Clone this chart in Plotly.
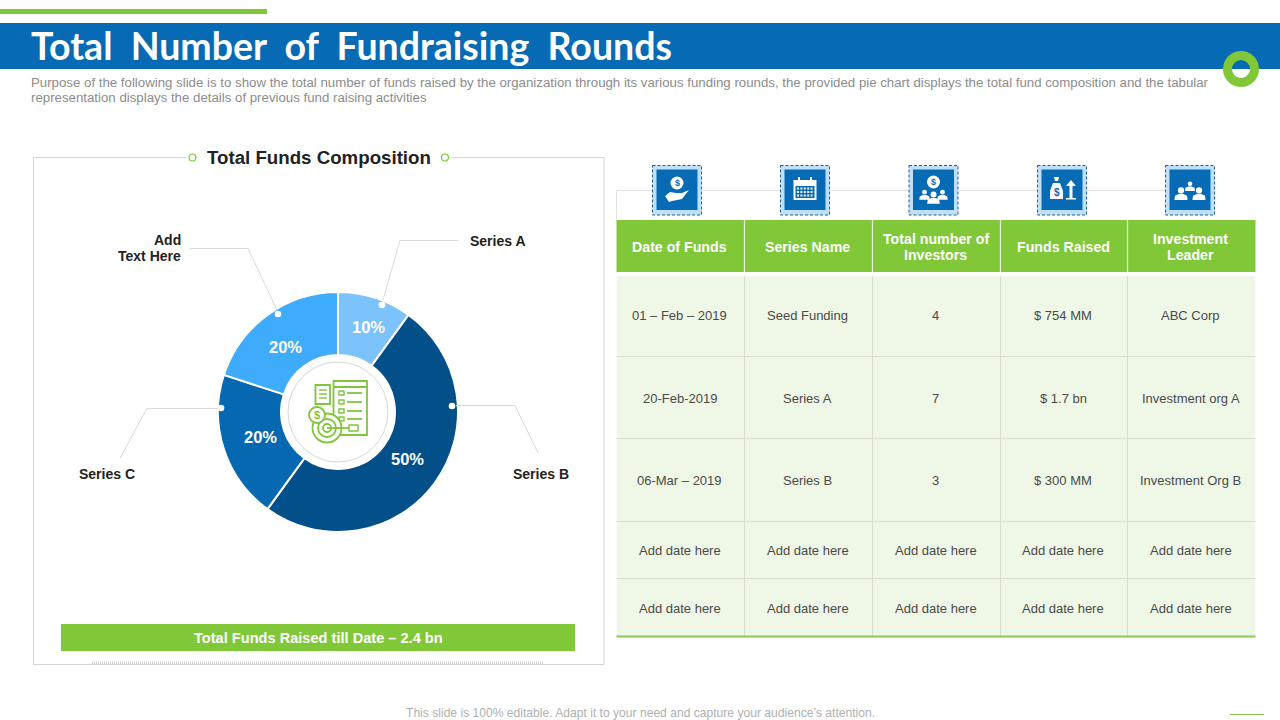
import math
import plotly.graph_objects as go

# pie data
pie_names = ["Series A", "Series B", "Series C", "Add Text Here"]
pie_values = [10, 50, 20, 20]
pie_colors = ["#7CC3FC", "#024F8A", "#0568B0", "#3FABFB"]

# table data
table_headers = ["Date of Funds", "Series Name", "Total number of<br>Investors", "Funds Raised", "Investment<br>Leader"]
date_of_funds = ["01 – Feb – 2019", "20-Feb-2019", "06-Mar – 2019", "Add date here", "Add date here"]
series_name = ["Seed Funding", "Series A", "Series B", "Add date here", "Add date here"]
investors = ["4", "7", "3", "Add date here", "Add date here"]
funds_raised = ["$ 754 MM", "$ 1.7 bn", "$ 300 MM", "Add date here", "Add date here"]
investment_leader = ["ABC Corp", "Investment org A", "Investment Org B", "Add date here", "Add date here"]

title_text = "Total&nbsp; Number&nbsp; of&nbsp; Fundraising&nbsp; Rounds"
sub_line_1 = ("Purpose of the following slide is to show the total number of funds raised by the organization through its "
              "various funding rounds, the provided pie chart displays the total fund composition and the tabular")
sub_line_2 = "representation displays the details of previous fund raising activities"
footer_text = "This slide is 100% editable. Adapt it to your need and capture your audience’s attention."

GREEN = "#80C837"
BLUE = "#066BB4"
FONT = "Liberation Sans"

shapes = []
notes = []


def rect(x0, y0, x1, y1, fill=None, line=None, width=1, dash=None, layer="above"):
    shapes.append(dict(type="rect", x0=x0, y0=y0, x1=x1, y1=y1, fillcolor=fill, layer=layer,
                       line=dict(color=line, width=width if line else 0, dash=dash)))


def line(x0, y0, x1, y1, color, width=1, dash=None):
    shapes.append(dict(type="line", x0=x0, y0=y0, x1=x1, y1=y1, line=dict(color=color, width=width, dash=dash)))


def circle(cx, cy, r, fill=None, color=None, width=1):
    shapes.append(dict(type="circle", x0=cx - r, y0=cy - r, x1=cx + r, y1=cy + r, fillcolor=fill,
                       line=dict(color=color, width=width if color else 0)))


def poly(points, fill=None, color=None, width=1, closed=True):
    d = "M" + " L".join(f"{x},{y}" for x, y in points) + (" Z" if closed else "")
    shapes.append(dict(type="path", path=d, fillcolor=fill, line=dict(color=color, width=width if color else 0)))


def text(x, y, s, size=12, color="#444444", bold=False, anchor="center", family=FONT):
    notes.append(dict(x=x, y=y, text=f"<b>{s}</b>" if bold else s, showarrow=False, xanchor=anchor, yanchor="middle",
                      font=dict(family=family, size=size, color=color), align=anchor))


def person(cx, cy, s=1.0, fill="white"):
    circle(cx, cy - 3 * s, 2.6 * s, fill=fill)
    poly([(cx - 5.5 * s, cy + 5 * s), (cx - 5 * s, cy + 1.5 * s), (cx - 2 * s, cy), (cx + 2 * s, cy),
          (cx + 5 * s, cy + 1.5 * s), (cx + 5.5 * s, cy + 5 * s)], fill=fill)


# top band
rect(0, 9, 267, 14, fill=GREEN)
rect(0, 23, 1280, 69, fill=BLUE)
circle(1241, 69, 18, fill=GREEN)
circle(1241, 69, 9, fill=BLUE)
poly([(1241 + 9 * math.cos(a / 20 * math.pi), 69 + 9 * math.sin(a / 20 * math.pi)) for a in range(21)], fill="white")
text(29, 45.5, title_text, size=37.5, color="white", bold=True, anchor="left", family="Lato")
text(29, 82, sub_line_1, size=13.25, color="#8C8C8C", anchor="left")
text(29, 97, sub_line_2, size=13.25, color="#8C8C8C", anchor="left")

# left panel
rect(33.5, 157.5, 604, 664.5, fill="white", line="#D4D4D4", layer="below")
rect(186, 150, 452, 165, fill="white", layer="below")
circle(192.5, 157.5, 3.5, fill="white", color=GREEN, width=1.2)
circle(445, 157.5, 3.5, fill="white", color=GREEN, width=1.2)
text(319, 157, "Total Funds Composition", size=18.7, color="#222222", bold=True)
line(92, 663, 543, 663, "#CFCFCF", width=3, dash="1px,1px")
rect(61, 624, 575, 651, fill=GREEN)
text(318, 637.5, "Total Funds Raised till Date – 2.4 bn", size=14.6, color="white", bold=True)

# pie leaders
leader_lines = [
    ([(190, 248.5), (248, 248.5), (277, 310)], (278, 314)),
    ([(458, 240.5), (400, 240.5), (383, 300)], (382, 305)),
    ([(456, 405.5), (515, 405.5), (538, 453)], (452, 406)),
    ([(218, 408.5), (147, 408.5), (120, 458)], (221, 408)),
]
for pts, dot in leader_lines:
    poly(pts, color="#D9D9D9", width=1, closed=False)
    circle(dot[0], dot[1], 3.3, fill="white")
text(183, 240, "Add", size=14, color="#222222", bold=True, anchor="right")
text(183, 256, "Text Here", size=14, color="#222222", bold=True, anchor="right")
text(468, 241, pie_names[0], size=14, color="#222222", bold=True, anchor="left")
text(511, 474, pie_names[1], size=14, color="#222222", bold=True, anchor="left")
text(77, 474, pie_names[2], size=14, color="#222222", bold=True, anchor="left")

# percent labels sit where the slide put them, not at ring middle
label_pos = [(368, 327), (407, 459), (260, 437), (285, 347)]
for (lx, ly), v in zip(label_pos, pie_values):
    text(lx, ly, f"{v}%", size=16.5, color="white", bold=True)

# centre icon
circle(338, 412, 50, fill="white", color="#DAD7D3", width=1)
ICON = "#7FC63A"
rect(333.5, 381, 367, 435, fill="white", line=ICON, width=1.8)
line(333.5, 387, 367, 387, ICON, 1.8)
for row_y in [393, 402, 411, 419]:
    rect(339, row_y - 2, 344, row_y + 2, line=ICON, width=1.4)
    line(347, row_y, 362, row_y, ICON, 1.8)
rect(315.5, 385, 330, 404, fill="white", line=ICON, width=1.8)
for row_y in [390, 394, 398]:
    line(319, row_y, 327, row_y, ICON, 1.4)
circle(327, 428, 14.5, fill="white", color=ICON, width=1.8)
circle(327, 428, 9, color=ICON, width=1.8)
circle(327, 428, 4, color=ICON, width=1.8)
line(327, 428, 358, 428, ICON, 1.8)
rect(349, 425, 358, 431, fill="white", line=ICON, width=1.4)
circle(317, 415, 8, fill="white", color=ICON, width=1.8)
text(317, 415, "$", size=11, color=ICON, bold=True)

# table
col_edges = [616.5, 744.5, 872.5, 1000.5, 1127.5, 1255.5]
row_edges = [276, 356.5, 438.5, 521.5, 578.5, 636]
row_text_y = [315.5, 398.5, 480.5, 550.5, 608.5]
columns = [date_of_funds, series_name, investors, funds_raised, investment_leader]
rect(col_edges[0], 220, col_edges[-1], 272, fill=GREEN)
rect(col_edges[0], row_edges[0], col_edges[-1], row_edges[-1], fill="#EFF7E7")
for x in col_edges[1:-1]:
    line(x, 220, x, 272, "#E6F3D8", 1.2)
    line(x, row_edges[0], x, row_edges[-1], "#D8DFD2", 1)
for y in row_edges[1:-1]:
    line(col_edges[0], y, col_edges[-1], y, "#D8DFD2", 1)
line(col_edges[0], 636.5, col_edges[-1], 636.5, "#8CC653", 2)
for i, column in enumerate(columns):
    cx = (col_edges[i] + col_edges[i + 1]) / 2 - 1
    header = table_headers[i].split("<br>")
    if len(header) == 2:
        text(cx, 239, header[0], size=14.2, color="white", bold=True)
        text(cx, 255, header[1], size=14.2, color="white", bold=True)
    else:
        text(cx, 247, header[0], size=14.2, color="white", bold=True)
    for j, value in enumerate(column):
        text(cx, row_text_y[j], value, size=13, color="#4A4A4A")

# header icons
icon_x = [677, 805, 933.5, 1062, 1190]
line(616.5, 190.5, 1170, 190.5, "#E2E2E2", 1)
line(616.5, 190.5, 616.5, 220, "#E2E2E2", 1)
for x in icon_x:
    rect(x - 24.5, 165.5, x + 24.5, 215, fill="#BFE0FA", line="#1F5F93", width=1, dash="3px,2px")
    rect(x - 20.5, 169.5, x + 20.5, 210, fill=BLUE)

# hand with coin
x, y = icon_x[0], 190
circle(x + 0, y - 7, 6.5, fill="white")
text(x + 0, y - 7, "$", size=9, color=BLUE, bold=True)
poly([(x - 12, y + 6), (x - 7, y + 2), (x - 1, y + 3), (x + 5, y + 3), (x + 12, y), (x + 5, y + 9), (x - 5, y + 11), (x - 8, y + 12)],
     fill="white")
# calendar
x = icon_x[1]
rect(x - 11.5, y - 10, x + 11.5, y + 10, fill="white")
rect(x - 9.5, y - 4, x + 9.5, y + 8, fill=BLUE)
line(x - 6, y - 13, x - 6, y - 8, "white", 2)
line(x + 6, y - 13, x + 6, y - 8, "white", 2)
for row in range(3):
    for col in range(5):
        rect(x - 8 + col * 3.4, y - 2.5 + row * 3.5, x - 6 + col * 3.4, y - 0.5 + row * 3.5, fill="white")
# coin and people
x = icon_x[2]
circle(x, y - 8, 6.5, fill="white")
text(x, y - 8, "$", size=9, color=BLUE, bold=True)
person(x - 9, y + 5, 0.95)
person(x + 9, y + 5, 0.95)
person(x, y + 8, 1.15)
# money bag and arrow
x = icon_x[3]
poly([(x - 9, y - 7), (x - 2, y - 7), (x + 1, y + 1), (x + 1, y + 9), (x - 12, y + 9), (x - 12, y + 1)], fill="white")
poly([(x - 8, y - 13), (x - 3, y - 13), (x - 4, y - 9), (x - 7, y - 9)], fill="white")
text(x - 5.5, y + 2, "$", size=10, color=BLUE, bold=True)
poly([(x + 9, y - 10), (x + 14, y - 4), (x + 10.5, y - 4), (x + 10.5, y + 8), (x + 14, y + 8), (x + 14, y + 9.5), (x + 4, y + 9.5),
      (x + 4, y + 8), (x + 7.5, y + 8), (x + 7.5, y - 4), (x + 4, y - 4)], fill="white")
# three people
x = icon_x[4]
person(x - 9, y + 4, 1.2)
person(x + 9, y + 4, 1.2)
person(x, y - 3.5, 0.9)

# footer
text(640, 713, footer_text, size=12.1, color="#B0B0B0")
line(1230, 714.5, 1264, 714.5, "#8CC653", 1)

fig = go.Figure(go.Pie(
    labels=pie_names,
    values=pie_values,
    sort=False,
    direction="clockwise",
    rotation=0,
    hole=0.475,
    marker=dict(colors=pie_colors, line=dict(color="white", width=2)),
    textinfo="none",
    hoverinfo="skip",
    domain=dict(x=[218 / 1280, 458 / 1280], y=[1 - 532 / 720, 1 - 292 / 720]),
))

for s in shapes:
    s.update(xref="x", yref="y")

fig.update_layout(
    width=1280,
    height=720,
    margin=dict(l=0, r=0, t=0, b=0),
    paper_bgcolor="white",
    plot_bgcolor="rgba(0,0,0,0)",
    showlegend=False,
    xaxis=dict(range=[0, 1280], visible=False, fixedrange=True),
    yaxis=dict(range=[720, 0], visible=False, fixedrange=True),
    shapes=shapes,
    annotations=notes,
)

fig.write_html("out.html", config=dict(displayModeBar=False), post_script="document.body.style.margin='0';")
